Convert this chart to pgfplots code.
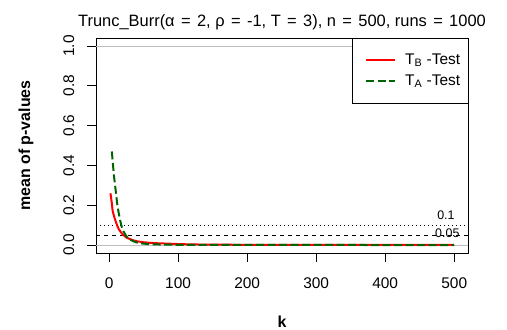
\documentclass[border=0pt]{standalone}
\usepackage{fontspec}
\setmainfont{Liberation Sans}
\usepackage{pgfplots}
\pgfplotsset{compat=1.18}
\definecolor{rRed}{HTML}{FF0000}
\definecolor{rGreen}{HTML}{006400}
\definecolor{rGray}{HTML}{BEBEBE}
\newcommand\eq{\ \kern1.8bp=\kern1.8bp\ }

\begin{document}
\begin{tikzpicture}
\useasboundingbox (0,0) rectangle (507bp,330bp);
\begin{axis}[
    at={(96bp,77bp)}, anchor=south west,
    scale only axis,
    width=372bp, height=215bp,
    xmin=-18.96, xmax=519.96,
    ymin=-0.04, ymax=1.04,
    xtick={0,100,200,300,400,500},
    ytick={0,0.2,0.4,0.6,0.8,1},
    yticklabels={0.0,0.2,0.4,0.6,0.8,1.0},
    xtick pos=left, ytick pos=left,
    tick align=outside,
    major tick length=9bp,
    tick style={black, line width=0.8bp},
    axis line style={black, line width=0.8bp},
    /pgf/number format/assume math mode=true,
    ticklabel style={font=\fontsize{15.5}{18}\selectfont},
    xticklabel style={anchor=base, yshift=-26bp},
    yticklabel style={rotate=90, anchor=base, yshift=13bp, inner sep=0pt},
    clip=true,
]
% reference lines
\addplot[rGray, line width=0.8bp] coordinates {(-18.96,0) (519.96,0)};
\addplot[rGray, line width=0.8bp] coordinates {(-18.96,1) (519.96,1)};
\addplot[black, line width=0.8bp, dash pattern=on 1bp off 3bp] coordinates {(-18.96,0.1) (519.96,0.1)};
\addplot[black, line width=0.8bp, dash pattern=on 4bp off 4bp] coordinates {(-18.96,0.05) (519.96,0.05)};
\node[anchor=base, font=\fontsize{12.5}{14}\selectfont] at (axis cs:488,0.126) {0.1};
\node[anchor=base, font=\fontsize{12.5}{14}\selectfont] at (axis cs:490,0.0365) {0.05};
% T_B test
\addplot[rRed, line width=2bp] coordinates {
  (2,0.26) (3,0.235) (4,0.21) (5,0.175) (6,0.16) (8,0.135) (10,0.115)
  (12,0.095) (14,0.08) (17,0.065) (20,0.052) (25,0.038) (30,0.03)
  (35,0.024) (40,0.019) (50,0.014) (60,0.011) (70,0.009) (85,0.007)
  (100,0.005) (120,0.003) (150,0.002) (200,0.001) (300,0.0005) (500,0.0002)
};
% T_A test
\addplot[rGreen, line width=2bp, dash pattern=on 8bp off 3.5bp] coordinates {
  (4,0.47) (5,0.43) (6,0.39) (7,0.35) (8,0.32) (10,0.26) (12,0.2)
  (14,0.16) (16,0.125) (18,0.095) (20,0.075) (23,0.055) (26,0.04)
  (30,0.028) (35,0.019) (40,0.013) (50,0.007) (60,0.004) (80,0.002)
  (100,0.001) (150,0.0005) (500,0)
};
\end{axis}
% legend
\draw[black, fill=white, line width=0.8bp] (352bp,227bp) rectangle (468bp,292bp);
\draw[rRed, line width=2bp] (366bp,270bp) -- (395bp,270bp);
\draw[rGreen, line width=2bp, dash pattern=on 8bp off 3.5bp] (366bp,249bp) -- (395bp,249bp);
\node[anchor=west, inner sep=0pt, font=\fontsize{15.5}{18}\selectfont] at (405bp,270bp) {T\textsubscript{B} -Test};
\node[anchor=west, inner sep=0pt, font=\fontsize{15.5}{18}\selectfont] at (405bp,249bp) {T\textsubscript{A} -Test};
% titles
\node[anchor=base, font=\fontsize{16.5}{19}\selectfont] at (282bp,303bp)
  {Trunc\_Burr(α\eq 2, ρ\eq -1, T\eq 3), n\eq 500, runs\eq 1000};
\node[rotate=90, font=\fontsize{16}{19}\selectfont\bfseries] at (26bp,184.5bp) {mean of p-values};
\node[anchor=base, font=\fontsize{16}{19}\selectfont\bfseries] at (282bp,3bp) {k};
\end{tikzpicture}
\end{document}
